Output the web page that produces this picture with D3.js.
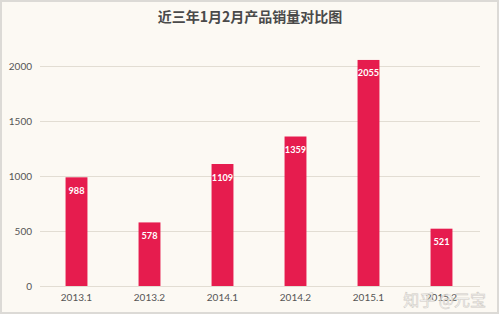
<!DOCTYPE html>
<html><head><meta charset="utf-8">
<script src="https://cdn.jsdelivr.net/npm/d3@7"></script>
<style>
html,body{margin:0;padding:0;background:#fff;}
svg{display:block;}
</style></head>
<body>
<script>
const categories = ["2013.1","2013.2","2014.1","2014.2","2015.1","2015.2"];
const sales = [988, 578, 1109, 1359, 2055, 521];
const yTicks = [0, 500, 1000, 1500, 2000];
const title = "近三年1月2月产品销量对比图";

const W = 499, H = 314;
const svg = d3.select("body").append("svg").attr("width", W).attr("height", H);
svg.append("rect").attr("x",1).attr("y",1).attr("width",W-2).attr("height",H-2)
  .attr("fill","#fcf9f3").attr("stroke","#dcdad6").attr("stroke-width",2);

const x = d3.scaleBand().domain(categories).range([40, 478]).paddingInner(0.7).paddingOuter(0.35);
const y = d3.scaleLinear().domain([0, 2000]).range([286, 66]);

const font = "'Lato','Noto Sans CJK SC',sans-serif";

svg.append("text").attr("x", 250).attr("y", 22).attr("text-anchor","middle")
  .attr("font-family","'Noto Sans CJK SC',sans-serif").attr("font-weight","bold")
  .attr("font-size",14).attr("fill","#4a4a4a").text(title);

// grid
const yAxis = svg.append("g").attr("transform","translate(40,0)")
  .call(d3.axisLeft(y).tickValues(yTicks).tickSize(-440).tickPadding(8).tickFormat(d3.format("d")));
yAxis.select(".domain").remove();
yAxis.selectAll("line").attr("stroke","#e2ddd3").attr("stroke-width",1);
yAxis.selectAll("text").attr("font-family",font).attr("font-size",10).attr("fill","#555");

// bars
svg.append("g").selectAll("rect").data(sales).join("rect")
  .attr("x",(d,i)=>x(categories[i])).attr("width",x.bandwidth())
  .attr("y",d=>y(d)).attr("height",d=>y(0)-y(d)).attr("fill","#e61c4e");

svg.append("g").selectAll("text").data(sales).join("text")
  .attr("x",(d,i)=>x(categories[i])+x.bandwidth()/2).attr("y",d=>y(d)+16.5)
  .attr("text-anchor","middle").attr("font-family",font).attr("font-weight","bold")
  .attr("font-size",9.2).attr("fill","#fff").text(d=>d);

// x axis
const xAxis = svg.append("g").attr("transform","translate(0,286)")
  .call(d3.axisBottom(x).tickSize(0).tickPadding(8));
xAxis.select(".domain").remove();
xAxis.selectAll("text").attr("font-family",font).attr("font-size",10).attr("fill","#555");

// watermark
svg.append("text").attr("x",486).attr("y",306).attr("text-anchor","end")
  .attr("font-family","'Noto Sans CJK SC',sans-serif").attr("font-size",16)
  .attr("fill","#ffffff").attr("stroke","#c8c4bd").attr("stroke-width",0.6).attr("opacity",0.85)
  .text("知乎 @元宝");
</script>
</body></html>
